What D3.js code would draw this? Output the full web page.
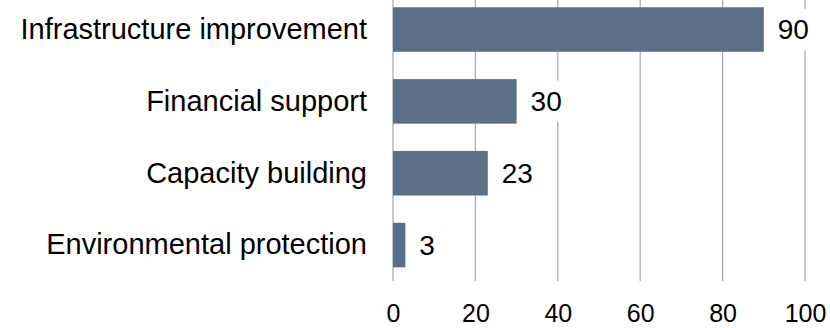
<!DOCTYPE html>
<html>
<head>
<meta charset="utf-8">
<script src="https://cdn.jsdelivr.net/npm/d3@7"></script>
<style>
  html, body { margin: 0; padding: 0; background: #ffffff; }
  svg { display: block; }
  text { font-family: "Liberation Sans", Arial, sans-serif; fill: #000000; }
</style>
</head>
<body>
<svg id="chart" width="830" height="328"></svg>
<script>
// Measures, listed top to bottom
const categories = [
  "Infrastructure improvement",
  "Financial support",
  "Capacity building",
  "Environmental protection"
];
const values = [90, 30, 23, 3];
const xTicks = [0, 20, 40, 60, 80, 100];

const width = 830, height = 328;
const margin = { top: -6.4, right: 25, bottom: 47, left: 393 };

const svg = d3.select("#chart");

const x = d3.scaleLinear()
  .domain([0, 100])
  .range([margin.left, width - margin.right]);

const y = d3.scaleBand()
  .domain(categories)
  .range([margin.top, height - margin.bottom])
  .paddingInner(0.38)
  .paddingOuter(0.19);

// vertical gridlines
svg.append("g")
  .selectAll("line")
  .data(xTicks)
  .join("line")
  .attr("x1", d => x(d))
  .attr("x2", d => x(d))
  .attr("y1", margin.top)
  .attr("y2", height - margin.bottom)
  .attr("stroke", "#adadad")
  .attr("stroke-width", 1.3);

// x axis labels
const xAxis = d3.axisBottom(x)
  .tickValues(xTicks)
  .tickSize(0)
  .tickPadding(0)
  .tickFormat(d3.format("d"));

svg.append("g")
  .attr("transform", `translate(0,${height - margin.bottom})`)
  .call(xAxis)
  .call(g => g.select(".domain").remove())
  .call(g => g.selectAll("text")
    .attr("dy", null)
    .attr("y", 41)
    .style("font-family", '"Liberation Sans", Arial, sans-serif')
    .style("font-size", "25px")
    .attr("fill", "#000"));

// category labels
const yAxis = d3.axisLeft(y).tickSize(0).tickPadding(26);
svg.append("g")
  .attr("transform", `translate(${margin.left},0)`)
  .call(yAxis)
  .call(g => g.select(".domain").remove())
  .call(g => g.selectAll("text")
    .style("font-family", '"Liberation Sans", Arial, sans-serif')
    .style("font-size", "29px")
    .attr("fill", "#000"));

// bars
svg.append("g")
  .selectAll("rect")
  .data(values)
  .join("rect")
  .attr("x", x(0))
  .attr("y", (d, i) => y(categories[i]))
  .attr("width", d => x(d) - x(0))
  .attr("height", y.bandwidth())
  .attr("fill", "#5b7086");

// value labels on a white backing
const labels = svg.append("g")
  .selectAll("g")
  .data(values)
  .join("g")
  .attr("transform", (d, i) => `translate(${x(d) + 14},${y(categories[i]) + y.bandwidth() / 2})`);

labels.append("text")
  .attr("dy", "0.35em")
  .style("font-size", "28px")
  .text(d => d);

labels.each(function() {
  const g = d3.select(this);
  const bb = g.select("text").node().getBBox();
  g.insert("rect", "text")
    .attr("x", bb.x - 4)
    .attr("y", -y.bandwidth() / 2 + 1.5)
    .attr("width", bb.width + 8)
    .attr("height", y.bandwidth() - 3)
    .attr("fill", "#ffffff");
});
</script>
</body>
</html>
